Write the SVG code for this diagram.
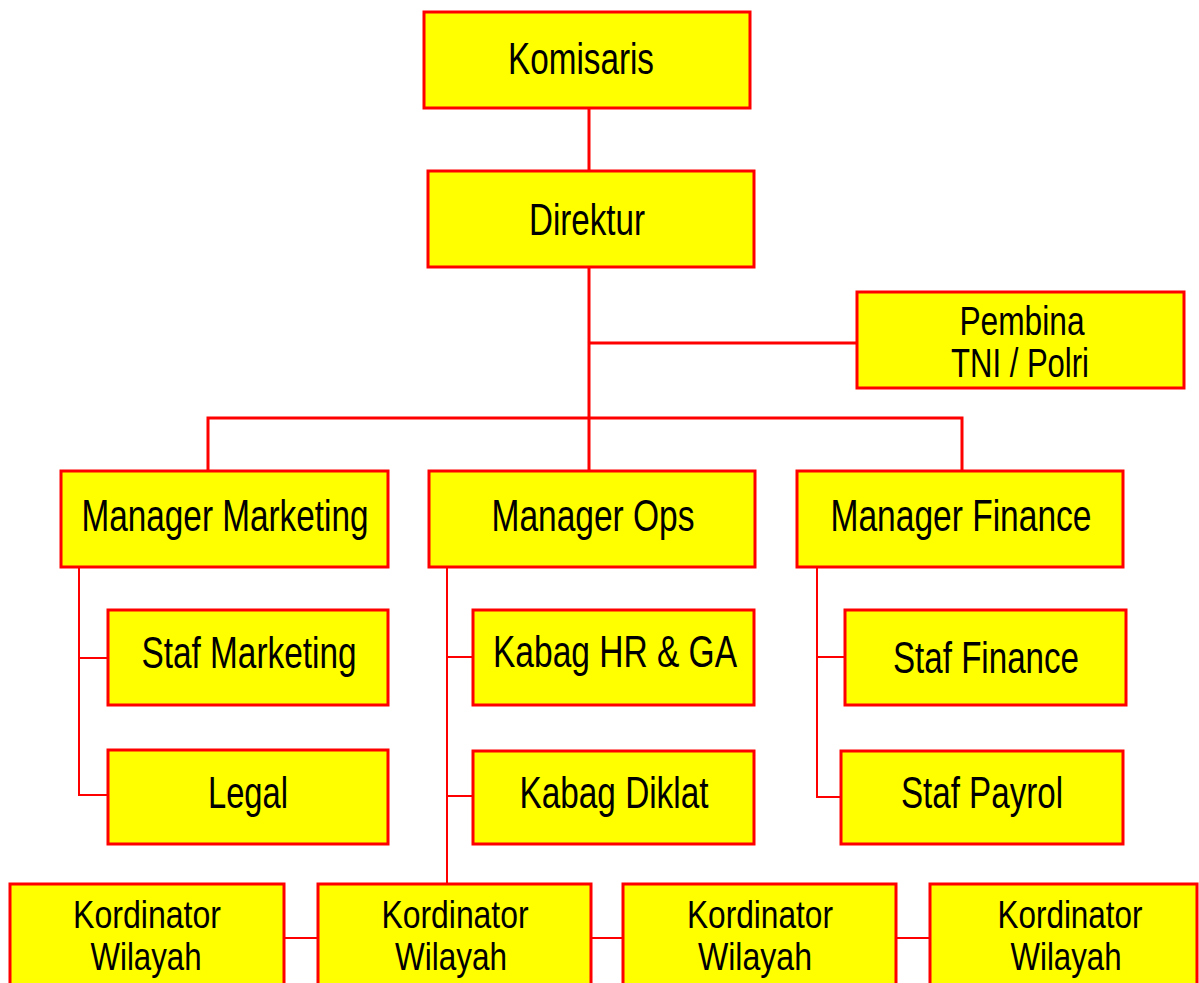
<svg xmlns="http://www.w3.org/2000/svg" width="1199" height="983" viewBox="0 0 1199 983">
<style>
.box{fill:#ffff00;stroke:#ff0000;stroke-width:3}
.t{font-family:"Liberation Sans Narrow","Liberation Sans",Arial,sans-serif;font-stretch:condensed;font-size:44px;fill:#000;text-anchor:middle}
.s{font-size:38px}
.p{font-size:40px}
.c{fill:none;stroke:#ff0000;stroke-width:3}
.c2{fill:none;stroke:#ff0000;stroke-width:2}
</style>
<rect width="1199" height="983" fill="#ffffff"/>
<g id="connectors">
<path class="c" d="M589 108V171M589 267V470M589 343H857M208 470V418H962V470"/>
<path class="c2" d="M79 568V795H107M79 658H107"/>
<path class="c2" d="M447 568V884M447 657H473M447 796H473"/>
<path class="c2" d="M817 568V797H841M817 657H844"/>
<path class="c2" d="M284 938H317M591 938H622M896 938H930"/>
</g>
<g id="komisaris"><rect class="box" x="424" y="12" width="326" height="96"/><text class="t" x="581" y="74" textLength="146" lengthAdjust="spacingAndGlyphs">Komisaris</text></g>
<g id="direktur"><rect class="box" x="428" y="171" width="326" height="96"/><text class="t" x="587" y="235" textLength="116" lengthAdjust="spacingAndGlyphs">Direktur</text></g>
<g id="pembina"><rect class="box" x="857" y="292" width="327" height="96"/><text class="t p" x="1022" y="335" textLength="125" lengthAdjust="spacingAndGlyphs">Pembina</text><text class="t p" x="1020" y="377" textLength="138" lengthAdjust="spacingAndGlyphs">TNI / Polri</text></g>
<g id="mgr-marketing"><rect class="box" x="61" y="471" width="327" height="96"/><text class="t" x="225" y="531" textLength="287" lengthAdjust="spacingAndGlyphs">Manager Marketing</text></g>
<g id="mgr-ops"><rect class="box" x="429" y="471" width="326" height="96"/><text class="t" x="593" y="531" textLength="203" lengthAdjust="spacingAndGlyphs">Manager Ops</text></g>
<g id="mgr-finance"><rect class="box" x="797" y="471" width="326" height="96"/><text class="t" x="961" y="531" textLength="261" lengthAdjust="spacingAndGlyphs">Manager Finance</text></g>
<g id="staf-marketing"><rect class="box" x="108" y="610" width="280" height="95"/><text class="t" x="249" y="668" textLength="215" lengthAdjust="spacingAndGlyphs">Staf Marketing</text></g>
<g id="legal"><rect class="box" x="108" y="750" width="280" height="94"/><text class="t" x="248" y="808" textLength="80" lengthAdjust="spacingAndGlyphs">Legal</text></g>
<g id="kabag-hr"><rect class="box" x="473" y="610" width="281" height="95"/><text class="t" x="615" y="667" textLength="244" lengthAdjust="spacingAndGlyphs">Kabag HR &amp; GA</text></g>
<g id="kabag-diklat"><rect class="box" x="473" y="751" width="281" height="93"/><text class="t" x="614" y="808" textLength="189" lengthAdjust="spacingAndGlyphs">Kabag Diklat</text></g>
<g id="staf-finance"><rect class="box" x="845" y="610" width="281" height="95"/><text class="t" x="986" y="673" textLength="186" lengthAdjust="spacingAndGlyphs">Staf Finance</text></g>
<g id="staf-payrol"><rect class="box" x="841" y="751" width="282" height="93"/><text class="t" x="982" y="808" textLength="162" lengthAdjust="spacingAndGlyphs">Staf Payrol</text></g>
<g id="kord-1"><rect class="box" x="10" y="884" width="274" height="110"/><text class="t s" x="147" y="928" textLength="148" lengthAdjust="spacingAndGlyphs">Kordinator</text><text class="t s" x="146" y="970" textLength="111" lengthAdjust="spacingAndGlyphs">Wilayah</text></g>
<g id="kord-2"><rect class="box" x="318" y="884" width="273" height="110"/><text class="t s" x="455" y="928" textLength="147" lengthAdjust="spacingAndGlyphs">Kordinator</text><text class="t s" x="451" y="970" textLength="112" lengthAdjust="spacingAndGlyphs">Wilayah</text></g>
<g id="kord-3"><rect class="box" x="623" y="884" width="273" height="110"/><text class="t s" x="760" y="928" textLength="146" lengthAdjust="spacingAndGlyphs">Kordinator</text><text class="t s" x="755" y="970" textLength="114" lengthAdjust="spacingAndGlyphs">Wilayah</text></g>
<g id="kord-4"><rect class="box" x="930" y="884" width="267" height="110"/><text class="t s" x="1070" y="928" textLength="145" lengthAdjust="spacingAndGlyphs">Kordinator</text><text class="t s" x="1066" y="970" textLength="111" lengthAdjust="spacingAndGlyphs">Wilayah</text></g>
</svg>
